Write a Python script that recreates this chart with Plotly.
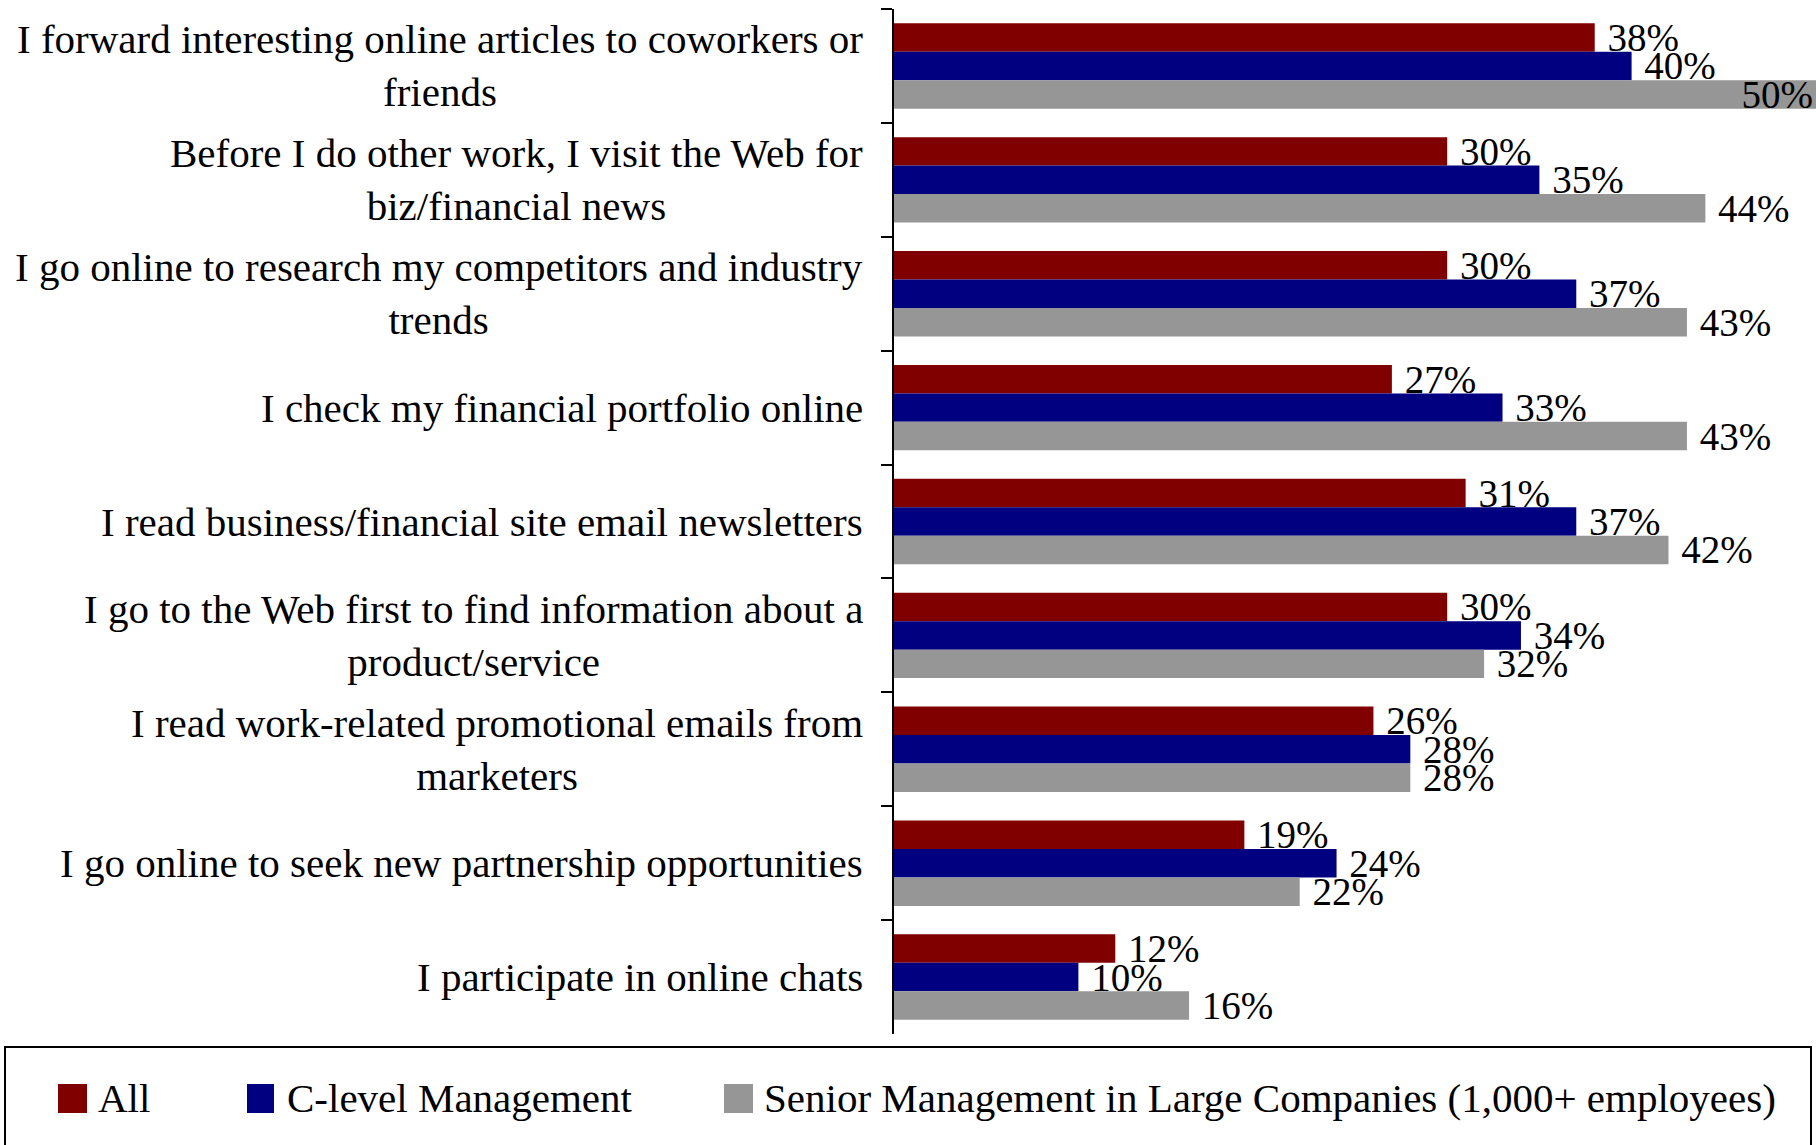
import plotly.graph_objects as go

# Survey statements (category axis, top to bottom)
CATEGORIES = [
    "I forward interesting online articles to coworkers or<br>friends",
    "Before I do other work, I visit the Web for<br>biz/financial news",
    "I go online to research my competitors and industry<br>trends",
    "I check my financial portfolio online",
    "I read business/financial site email newsletters",
    "I go to the Web first to find information about a<br>product/service",
    "I read work-related promotional emails from<br>marketers",
    "I go online to seek new partnership opportunities",
    "I participate in online chats",
]

SERIES_NAMES = [
    "All",
    "C-level Management",
    "Senior Management in Large Companies (1,000+ employees)",
]

ALL_PCT = [38, 30, 30, 27, 31, 30, 26, 19, 12]
CLEVEL_PCT = [40, 35, 37, 33, 37, 34, 28, 24, 10]
SENIOR_PCT = [50, 44, 43, 43, 42, 32, 28, 22, 16]

COLORS = ["#800000", "#000080", "#969696"]
X_MAX = 50

FONT = "Liberation Serif"
FS_LABEL = 41
FS_VALUE = 39

W, H = 1816, 1145
M_L, M_R, M_T, M_B = 894, 0, 9, 111
PLOT_W = W - M_L - M_R
PLOT_H = H - M_T - M_B


def px_x(x):
    return (x - M_L) / PLOT_W


def px_y(y):
    return (H - M_B - y) / PLOT_H


fig = go.Figure()

for name, vals, color in zip(SERIES_NAMES, [ALL_PCT, CLEVEL_PCT, SENIOR_PCT], COLORS):
    value_font = dict(family=FONT, size=FS_VALUE, color="black")
    fig.add_trace(go.Bar(
        name=name,
        y=CATEGORIES,
        x=vals,
        orientation="h",
        marker=dict(color=color, line=dict(width=0)),
        text=[f"\u00a0{v}%" for v in vals],
        textposition=["inside" if v >= X_MAX else "outside" for v in vals],
        insidetextanchor="end",
        textfont=value_font,
        insidetextfont=value_font,
        outsidetextfont=value_font,
        constraintext="none",
        cliponaxis=False,
        showlegend=False,
        hoverinfo="skip",
    ))

annotations = []
# Category labels, centred line by line and right-aligned against the axis
for cat in CATEGORIES:
    annotations.append(dict(
        xref="paper", yref="y", x=0, y=cat,
        xanchor="right", yanchor="middle", xshift=-29,
        text=cat, align="center", showarrow=False,
        font=dict(family=FONT, size=FS_LABEL, color="black"),
    ))

shapes = []
# Legend frame
shapes.append(dict(
    type="rect", xref="paper", yref="paper",
    x0=px_x(5), x1=px_x(1811), y0=px_y(1170), y1=px_y(1047),
    line=dict(color="black", width=2), fillcolor="rgba(0,0,0,0)",
))

legend_items = [(58, 87, 96), (247, 274, 285), (724, 753, 762)]
for (sx0, sx1, tx), name, color in zip(legend_items, SERIES_NAMES, COLORS):
    shapes.append(dict(
        type="rect", xref="paper", yref="paper",
        x0=px_x(sx0), x1=px_x(sx1), y0=px_y(1113), y1=px_y(1084),
        line=dict(width=0), fillcolor=color,
    ))
    annotations.append(dict(
        xref="paper", yref="paper", x=px_x(tx), y=px_y(1098),
        xanchor="left", yanchor="middle",
        text=name, showarrow=False,
        font=dict(family=FONT, size=FS_LABEL, color="black"),
    ))

fig.update_layout(
    width=W, height=H,
    margin=dict(l=M_L, r=M_R, t=M_T, b=M_B, pad=0),
    paper_bgcolor="white", plot_bgcolor="white",
    barmode="group", bargap=0.25, bargroupgap=0,
    font=dict(family=FONT, size=FS_LABEL, color="black"),
    xaxis=dict(range=[0, X_MAX], visible=False, showgrid=False, zeroline=False),
    yaxis=dict(
        type="category", autorange="reversed",
        showline=True, linecolor="black", linewidth=2,
        ticks="outside", ticklen=11, tickwidth=2, tickcolor="black",
        tickson="boundaries", showticklabels=False, showgrid=False,
    ),
    shapes=shapes,
    annotations=annotations,
)

fig.write_html("out.html")
